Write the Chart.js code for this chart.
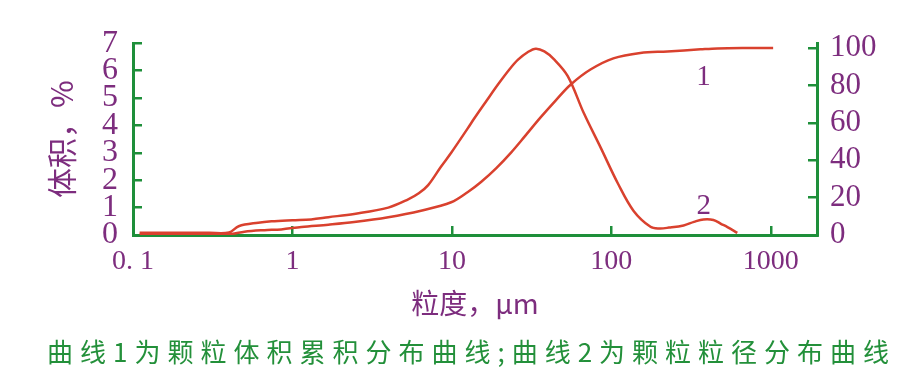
<!DOCTYPE html>
<html><head><meta charset="utf-8">
<script src="https://cdn.jsdelivr.net/npm/chart.js@4/dist/chart.umd.min.js"></script>
<style>
html,body{margin:0;padding:0;background:#fff;}
#wrap{position:relative;width:924px;height:379px;overflow:hidden;}
#caption{position:absolute;left:47px;top:334px;text-align:left;font-family:"Noto Sans CJK SC";font-size:26px;letter-spacing:7px;color:#23903a;white-space:nowrap;line-height:34px;}
</style></head><body>
<div id="wrap"><canvas id="c" width="924" height="379"></canvas><div id="caption">曲线1为颗粒体积累积分布曲线;曲线2为颗粒粒径分布曲线</div></div>
<script>
// Curve 2: particle size distribution (volume %, left axis)
const distSizes = [0.11, 0.2, 0.3, 0.4, 0.46, 0.61, 0.74, 1.0, 1.31, 1.68, 2.44, 3.99, 5.32, 6.2, 7.1, 8.56, 9.9, 12.6, 13.8, 16.5, 19.5, 23, 26, 30, 33.6, 38, 43.6, 53.3, 67.2, 85.9, 110, 138, 176, 200, 230, 284, 330, 378, 437, 490, 535, 617];
const distValues = [0.08, 0.08, 0.08, 0.09, 0.32, 0.45, 0.5, 0.54, 0.57, 0.65, 0.77, 1.0, 1.3, 1.52, 1.82, 2.5, 3.0, 3.9, 4.25, 4.9, 5.5, 6.05, 6.4, 6.68, 6.8, 6.7, 6.42, 5.8, 4.45, 3.18, 1.88, 0.88, 0.3, 0.24, 0.27, 0.35, 0.48, 0.57, 0.55, 0.4, 0.29, 0.08];
// Curve 1: cumulative volume distribution (%, right axis)
const cumSizes = [0.11, 0.2, 0.3, 0.415, 0.5, 0.668, 0.85, 1.14, 1.68, 2.44, 3.99, 6.4, 9.9, 12.6, 15.3, 19, 23.5, 29, 36, 45, 55.7, 74, 103, 152, 225, 362, 463, 700, 1035];
const cumValues = [0.3, 0.3, 0.3, 0.6, 1.8, 2.6, 3.0, 4.3, 5.5, 6.9, 9.5, 13, 17.5, 23, 28.5, 35.8, 44.1, 53.3, 62.9, 72.2, 80.5, 88.5, 94.5, 97.4, 98.2, 99.3, 99.8, 100, 100];
const xTickValues = [0.1, 1, 10, 100, 1000];
const xTickLabels = ['0. 1', '1', '10', '100', '1000'];
const leftTicks = [0, 1, 2, 3, 4, 5, 6, 7];
const rightTicks = [0, 20, 40, 60, 80, 100];
const curveLabels = [
  {text: '1', size: 378, value: 84.5, axis: 'y1'},
  {text: '2', size: 380, value: 1.06, axis: 'y'}
];
const xTitle = '粒度，μm';
const yTitle = '体积，%';

const PURPLE = '#7d2d7e';
const GREEN = '#1e8f3a';
const RED = '#d9412e';
const NUM_FONT = 'Liberation Serif';
const CJK_FONT = 'Noto Sans CJK SC';

const labelPlugin = {
  id: 'curveLabels',
  afterDatasetsDraw(chart) {
    const ctx = chart.ctx;
    ctx.save();
    ctx.fillStyle = PURPLE;
    ctx.font = '29px "' + NUM_FONT + '"';
    ctx.textAlign = 'center';
    ctx.textBaseline = 'middle';
    curveLabels.forEach(l => {
      const px = chart.scales.x.getPixelForValue(l.size);
      const py = chart.scales[l.axis].getPixelForValue(l.value);
      ctx.fillText(l.text, px, py);
    });
    ctx.restore();
  }
};

const axisGrid = {display: true, drawOnChartArea: false, drawTicks: true, tickLength: -9, color: GREEN, lineWidth: 2.5};
const axisBorder = {display: true, color: GREEN, width: 3};

new Chart(document.getElementById('c'), {
  type: 'line',
  data: {
    datasets: [
      {
        label: '曲线1',
        data: cumSizes.map((s, i) => ({x: s, y: cumValues[i]})),
        yAxisID: 'y1',
        borderColor: RED, borderWidth: 2.5, pointRadius: 0,
        tension: 0.35, fill: false
      },
      {
        label: '曲线2',
        data: distSizes.map((s, i) => ({x: s, y: distValues[i]})),
        yAxisID: 'y',
        borderColor: RED, borderWidth: 2.5, pointRadius: 0,
        tension: 0.35, fill: false
      }
    ]
  },
  options: {
    responsive: false,
    animation: false,
    devicePixelRatio: 1,
    layout: {padding: {top: 37, left: 0, right: 0, bottom: 0}},
    plugins: {legend: {display: false}, tooltip: {enabled: false}},
    scales: {
      x: {
        type: 'logarithmic', position: 'bottom', min: 0.1, max: 1950,
        afterFit: s => { s.height = 144; },
        afterBuildTicks: s => { s.ticks = xTickValues.map(v => ({value: v, major: false})); },
        ticks: {
          autoSkip: false, maxRotation: 0, padding: 19,
          color: PURPLE, font: {family: NUM_FONT, size: 28},
          callback: (v) => { const i = xTickValues.indexOf(v); return i >= 0 ? xTickLabels[i] : ''; }
        },
        grid: axisGrid,
        border: axisBorder,
        title: {display: true, text: xTitle, color: PURPLE, font: {family: CJK_FONT, size: 28}, padding: {top: 0, bottom: 59}}
      },
      y: {
        type: 'linear', position: 'left', min: 0, max: 7,
        afterFit: s => { s.width = 133; },
        afterBuildTicks: s => { s.ticks = leftTicks.map(v => ({value: v})); },
        ticks: {autoSkip: false, padding: 24, color: PURPLE, font: {family: NUM_FONT, size: 32}},
        grid: axisGrid,
        border: axisBorder,
        title: {display: true, text: yTitle, color: PURPLE, font: {family: CJK_FONT, size: 30}, padding: {top: 44, bottom: 0}}
      },
      y1: {
        type: 'linear', position: 'right', min: 0, max: 102.6,
        afterFit: s => { s.width = 107; },
        afterBuildTicks: s => { s.ticks = rightTicks.map(v => ({value: v})); },
        ticks: {autoSkip: false, padding: 22, color: PURPLE, font: {family: NUM_FONT, size: 31}},
        grid: axisGrid,
        border: axisBorder
      }
    }
  },
  plugins: [labelPlugin]
});
</script>
</body></html>
